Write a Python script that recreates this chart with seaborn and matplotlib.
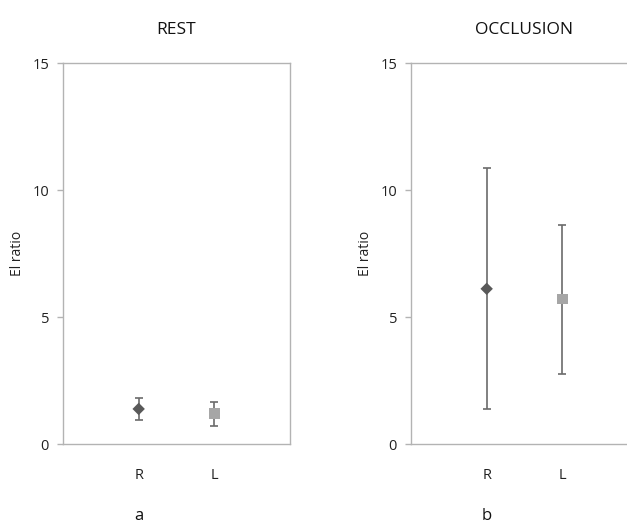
import numpy as np
import pandas as pd
import seaborn as sns
import matplotlib.pyplot as plt

# --- data ---
sides = ['R', 'L']
rest_mean = [1.38, 1.21]
rest_low = [0.94, 0.72]
rest_high = [1.80, 1.67]
occ_mean = [6.11, 5.71]
occ_low = [1.38, 2.76]
occ_high = [10.85, 8.62]

panels = [('REST', 'a', rest_mean, rest_low, rest_high),
          ('OCCLUSION', 'b', occ_mean, occ_low, occ_high)]

sns.set_style('white')
plt.rcParams['font.family'] = ['Open Sans', 'DejaVu Sans']

fig = plt.figure(figsize=(6.27, 5.28), dpi=100)
W, H = 627, 528
boxes = [(63, 63, 227, 381), (411, 63, 227, 381)]

marker_cols = ['#595959', '#a6a6a6']
markers = {'R': 'D', 'L': 's'}
spine_col = '#b3b3b3'

for (title, letter, mean, low, high), (x0, y0, w, h) in zip(panels, boxes):
    ax = fig.add_axes([x0 / W, 1 - (y0 + h) / H, w / W, h / H])
    df = pd.DataFrame({'side': sides, 'pos': [0, 1], 'mean': mean,
                       'low': low, 'high': high})
    yerr = [df['mean'] - df['low'], df['high'] - df['mean']]
    ax.errorbar(df['pos'], df['mean'], yerr=yerr, fmt='none',
                ecolor='#6b6b6b', elinewidth=1.2, capsize=3, capthick=1.2,
                zorder=2)
    sns.scatterplot(data=df, x='pos', y='mean', hue='side', style='side',
                    palette=dict(zip(sides, marker_cols)), markers=markers,
                    s=[40, 60], edgecolor='none', legend=False, ax=ax, zorder=3)
    ax.set_xlim(-1, 2)
    ax.set_ylim(0, 15)
    ax.set_xticks([0, 1])
    ax.set_xticklabels(sides, fontsize=10.5, color='#222222')
    ax.set_yticks([0, 5, 10, 15])
    ax.tick_params(axis='y', labelsize=10.5, labelcolor='#222222', length=4,
                   color=spine_col, width=1, direction='out', left=True, pad=6)
    ax.tick_params(axis='x', length=0, pad=17)
    for sp in ax.spines.values():
        sp.set_color(spine_col)
        sp.set_linewidth(1)
    ax.set_xlabel('')
    ax.set_ylabel('El ratio', fontsize=10, color='#222222', labelpad=5)
    ax.set_title(title, fontsize=12.5, color='#111111', pad=21)
    ax.text(0, -0.19, letter, transform=ax.get_xaxis_transform(),
            ha='center', va='center', fontsize=12, color='#111111')

fig.savefig('out.png', dpi=100)
